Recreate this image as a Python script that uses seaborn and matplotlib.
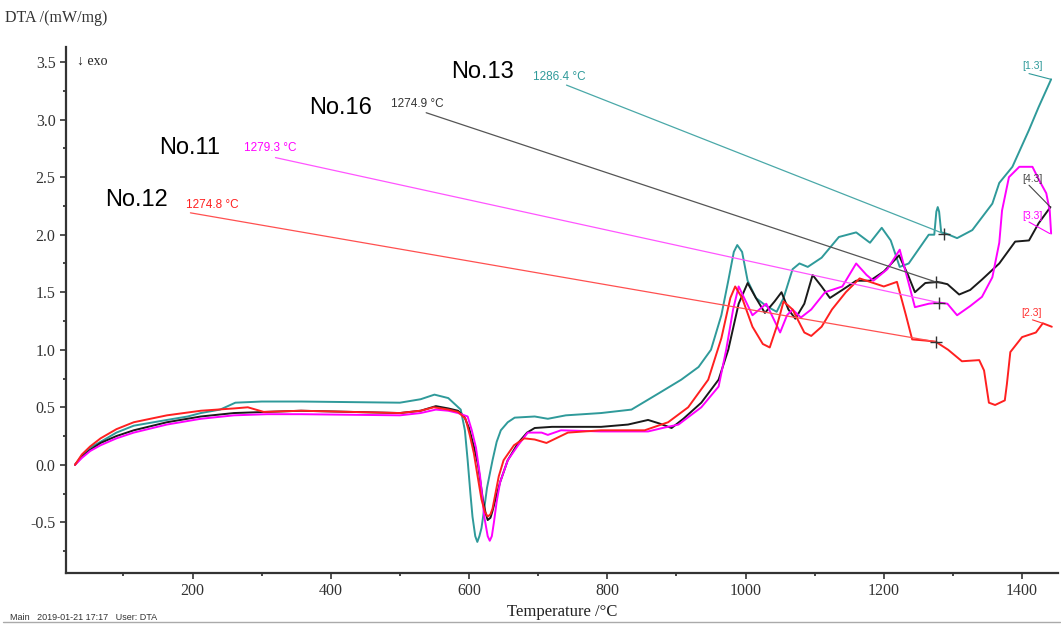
import numpy as np
import pandas as pd
import seaborn as sns
import matplotlib.pyplot as plt
from matplotlib.lines import Line2D

# DTA curves (temperature in degC, DTA in mW/mg)
t_13 = [30, 40, 52, 67, 90, 115, 163, 193, 212, 240, 262, 300, 357, 500, 530, 550, 570, 588, 594, 598, 602, 605,
        609, 612, 615, 618, 622, 626, 634, 640, 646, 656, 666, 695, 714, 740, 791, 835, 874, 907, 932, 950, 965,
        975, 983, 988, 995, 1003, 1015, 1030, 1045, 1055, 1068, 1078, 1090, 1110, 1135, 1160, 1180, 1197, 1210,
        1223, 1236, 1265, 1273, 1276, 1278, 1280, 1283, 1290, 1306, 1328, 1357, 1367, 1386, 1410, 1424, 1442]
v_13 = [0.0, 0.08, 0.15, 0.20, 0.28, 0.34, 0.39, 0.42, 0.45, 0.48, 0.54, 0.55, 0.55, 0.54, 0.57, 0.61, 0.58,
        0.48, 0.30, 0.04, -0.25, -0.45, -0.62, -0.67, -0.62, -0.55, -0.38, -0.2, 0.04, 0.20, 0.30, 0.37, 0.41,
        0.42, 0.40, 0.43, 0.45, 0.48, 0.62, 0.74, 0.85, 1.0, 1.3, 1.6, 1.85, 1.91, 1.85, 1.6, 1.45, 1.38, 1.33,
        1.45, 1.7, 1.75, 1.72, 1.8, 1.98, 2.02, 1.93, 2.06, 1.95, 1.72, 1.75, 2.0, 2.0, 2.2, 2.24, 2.2, 2.02,
        2.01, 1.97, 2.04, 2.27, 2.45, 2.59, 2.91, 3.11, 3.35]

t_16 = [30, 40, 52, 67, 90, 115, 163, 212, 260, 308, 357, 500, 530, 552, 570, 584, 593, 600, 607, 613, 620,
        624, 627, 631, 634, 640, 645, 656, 671, 684, 695, 720, 791, 830, 859, 875, 893, 910, 936, 961, 975, 990,
        1003, 1015, 1028, 1042, 1052, 1062, 1072, 1085, 1097, 1110, 1122, 1140, 1160, 1180, 1200, 1222, 1235,
        1245, 1260, 1277, 1292, 1309, 1325, 1342, 1367, 1390, 1410, 1424, 1441]
v_16 = [0.0, 0.07, 0.13, 0.19, 0.25, 0.30, 0.37, 0.42, 0.45, 0.46, 0.47, 0.45, 0.47, 0.51, 0.49, 0.47, 0.42,
        0.32, 0.16, 0.0, -0.3, -0.42, -0.48, -0.46, -0.4, -0.26, -0.15, 0.04, 0.19, 0.28, 0.32, 0.33, 0.33, 0.35,
        0.39, 0.36, 0.32, 0.40, 0.54, 0.74, 1.0, 1.4, 1.58, 1.45, 1.32, 1.42, 1.5, 1.35, 1.27, 1.4, 1.65, 1.55,
        1.45, 1.52, 1.6, 1.6, 1.68, 1.82, 1.65, 1.50, 1.58, 1.59, 1.57, 1.48, 1.52, 1.61, 1.75, 1.94, 1.95, 2.10,
        2.24]

t_11 = [30, 40, 52, 67, 90, 115, 163, 212, 260, 308, 357, 500, 530, 552, 570, 584, 598, 604, 610, 616, 622,
        627, 630, 633, 636, 640, 645, 656, 671, 685, 705, 714, 733, 791, 859, 880, 903, 936, 961, 972, 982, 990,
        998, 1010, 1030, 1042, 1050, 1060, 1068, 1080, 1095, 1115, 1140, 1160, 1175, 1185, 1205, 1223, 1235,
        1245, 1265, 1280, 1292, 1306, 1325, 1342, 1357, 1367, 1371, 1381, 1396, 1415, 1425, 1435, 1440, 1442]
v_11 = [0.0, 0.06, 0.12, 0.17, 0.23, 0.28, 0.35, 0.40, 0.43, 0.44, 0.44, 0.43, 0.45, 0.48, 0.47, 0.45, 0.42,
        0.30, 0.15, -0.1, -0.45, -0.62, -0.66, -0.62, -0.5, -0.32, -0.15, 0.04, 0.17, 0.28, 0.28, 0.26, 0.30,
        0.29, 0.29, 0.32, 0.35, 0.50, 0.68, 1.0, 1.35, 1.55, 1.45, 1.3, 1.4, 1.25, 1.15, 1.3, 1.35, 1.28, 1.35,
        1.5, 1.55, 1.75, 1.65, 1.6, 1.7, 1.87, 1.6, 1.37, 1.40, 1.41, 1.40, 1.30, 1.38, 1.46, 1.63, 1.93, 2.21,
        2.50, 2.59, 2.59, 2.47, 2.36, 2.21, 2.01]

t_12 = [30, 40, 52, 67, 90, 115, 163, 212, 260, 280, 303, 357, 500, 530, 549, 570, 584, 595, 601, 607, 613,
        618, 623, 627, 631, 634, 643, 650, 665, 680, 695, 712, 743, 791, 854, 888, 917, 946, 965, 978, 985, 995,
        1010, 1025, 1035, 1045, 1055, 1068, 1085, 1095, 1110, 1125, 1145, 1165, 1185, 1200, 1219, 1232, 1241,
        1260, 1275, 1293, 1313, 1338, 1345, 1352, 1361, 1375, 1378, 1383, 1400, 1420, 1430, 1443]
v_12 = [0.0, 0.09, 0.16, 0.23, 0.31, 0.37, 0.43, 0.47, 0.49, 0.50, 0.46, 0.47, 0.45, 0.47, 0.50, 0.48, 0.46,
        0.40, 0.26, 0.1, -0.12, -0.3, -0.41, -0.45, -0.43, -0.38, -0.1, 0.04, 0.17, 0.23, 0.22, 0.19, 0.28, 0.30,
        0.30, 0.37, 0.50, 0.74, 1.1, 1.45, 1.55, 1.45, 1.2, 1.05, 1.02, 1.2, 1.42, 1.35, 1.15, 1.12, 1.2, 1.35,
        1.5, 1.62, 1.58, 1.55, 1.59, 1.3, 1.09, 1.08, 1.07, 1.00, 0.90, 0.91, 0.82, 0.54, 0.52, 0.56, 0.70, 0.98,
        1.11, 1.15, 1.23, 1.20]

names = ["No.13", "No.16", "No.11", "No.12"]
onset = [1286.4, 1274.9, 1279.3, 1274.8]
onset_v = [2.01, 1.59, 1.41, 1.07]
end_tags = ["[1.3]", "[4.3]", "[3.3]", "[2.3]"]

colors = ["#2f9a9a", "#1a1a1a", "#ff00ff", "#ff2020"]
lead_colors = ["#4aa8a8", "#555555", "#ff55ff", "#ff5050"]
series = [(t_13, v_13), (t_16, v_16), (t_11, v_11), (t_12, v_12)]

sns.set_style("ticks")
plt.rcParams['font.family'] = ['Liberation Serif', 'DejaVu Sans']

fig = plt.figure(figsize=(10.61, 6.26), dpi=100)
ax = fig.add_axes([0.0622, 0.0847, 0.935, 0.840])

for (t, v), c, n in zip(series, colors, names):
    df = pd.DataFrame({"T": t, "DTA": v})
    sns.lineplot(data=df, x="T", y="DTA", color=c, lw=1.4, sort=False, estimator=None, ax=ax)

# onset markers and leader lines
label_pos = [(574, 3.41), (368, 3.10), (151, 2.75), (74, 2.30)]
temp_pos = [(693, 3.37), (487, 3.14), (274, 2.75), (190, 2.26)]
lead_start = [(741, 3.30), (538, 3.06), (320, 2.67), (197, 2.19)]
for i in range(4):
    ax.plot([lead_start[i][0], onset[i]], [lead_start[i][1], onset_v[i]], color=lead_colors[i], lw=0.9)
    ax.plot(onset[i], onset_v[i], marker="+", ms=9, mew=1.0, color="#333333")
    ax.text(label_pos[i][0], label_pos[i][1], names[i], fontsize=17, family="Liberation Sans",
            ha="left", va="center", color="black")
    ax.text(temp_pos[i][0], temp_pos[i][1], f"{onset[i]} °C", fontsize=8.5, family="Liberation Sans",
            ha="left", va="center", color=colors[i] if i != 1 else "#333333")

# end tags
tag_pos = [(1400, 3.47), (1400, 2.48), (1400, 2.16), (1399, 1.32)]
tag_lead = [((1410, 3.40), (1442, 3.35)), ((1410, 2.43), (1441, 2.24)),
            ((1410, 2.11), (1440, 2.01)), ((1415, 1.26), (1430, 1.23))]
tag_colors = ["#2f9a9a", "#444444", "#ff00ff", "#ff3030"]
for i in range(4):
    ax.text(tag_pos[i][0], tag_pos[i][1], end_tags[i], fontsize=7.5, family="Liberation Sans",
            ha="left", va="center", color=tag_colors[i])
    (x0, y0), (x1, y1) = tag_lead[i]
    ax.plot([x0, x1], [y0, y1], color=tag_colors[i], lw=0.8)

ax.set_xlim(17, 1452)
ax.set_ylim(-0.94, 3.63)
ax.set_xticks(np.arange(200, 1401, 200))
ax.set_xticks(np.arange(100, 1401, 200), minor=True)
ax.set_yticks(np.arange(-0.5, 3.51, 0.5))
ax.set_yticks(np.arange(-0.75, 3.6, 0.5), minor=True)
ax.set_yticklabels([f"{v:.1f}" for v in np.arange(-0.5, 3.51, 0.5)])
ax.tick_params(axis="both", which="major", direction="out", length=4, width=1.2, labelsize=11.5, colors="#333333")
ax.tick_params(axis="both", which="minor", direction="out", length=2, width=1.2)
for s in ["top", "right"]:
    ax.spines[s].set_visible(False)
for s in ["left", "bottom"]:
    ax.spines[s].set_linewidth(1.6)
    ax.spines[s].set_color("#333333")
ax.set_xlabel("Temperature /°C", fontsize=12, labelpad=3, color="#222222")
ax.set_ylabel("")

fig.text(0.005, 0.972, "DTA /(mW/mg)", fontsize=11.5, ha="left", va="center", color="#333333")
ax.text(0.011, 0.985, "↓ exo", transform=ax.transAxes, fontsize=10, ha="left", va="top", color="#222222")
fig.text(0.009, 0.014, "Main   2019-01-21 17:17   User: DTA", fontsize=6.5, family="Liberation Sans",
         ha="left", va="center", color="#333333")
fig.add_artist(Line2D([0.003, 0.999], [0.006, 0.006], transform=fig.transFigure, color="#aaaaaa", lw=1))

fig.savefig("out.png", dpi=100)
